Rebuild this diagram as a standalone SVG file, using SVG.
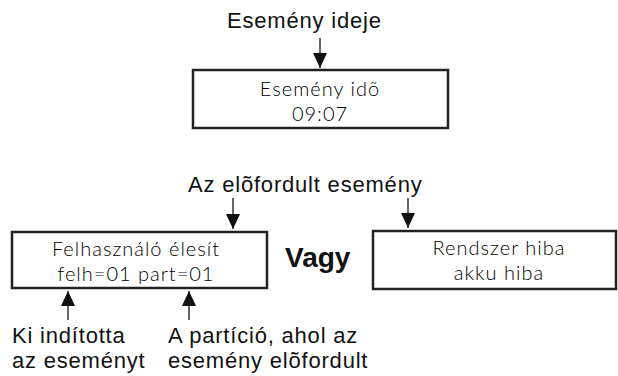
<svg xmlns="http://www.w3.org/2000/svg" width="618" height="376" viewBox="0 0 618 376">
<defs>
<marker id="ah" markerUnits="userSpaceOnUse" markerWidth="15" markerHeight="14" viewBox="0 0 15 14" refX="15" refY="7" orient="auto">
<path d="M0,0 L15,7 L0,14 Z" fill="#111"/>
</marker>
<style>
.lbl{font-family:"Liberation Sans",Arial,sans-serif;font-size:22px;letter-spacing:0.8px;fill:#111}
.box{fill:#fff;stroke:#222;stroke-width:2.5}
.bt{font-family:"Lato","Noto Sans",sans-serif;font-weight:300;font-size:20px;fill:#000;text-anchor:middle;letter-spacing:1px}
.conn line{stroke:#333;stroke-width:1.5}
</style>
</defs>
<rect width="618" height="376" fill="#fff"/>
<g id="label-ideje"><text class="lbl" x="227" y="28">Esemény ideje</text></g>
<g id="node-ido">
<rect class="box" x="193" y="70" width="255" height="58"/>
<text class="bt" x="320" y="96">Esemény idõ</text>
<text class="bt" x="320" y="121">09:07</text>
</g>
<g id="label-esemeny"><text class="lbl" x="188" y="192">Az elõfordult esemény</text></g>
<g id="node-felh">
<rect class="box" x="12" y="232" width="255" height="56"/>
<text class="bt" x="136" y="256">Felhasználó élesít</text>
<text class="bt" x="136" y="281">felh=01 part=01</text>
</g>
<g id="label-vagy"><text x="285" y="267" style="font-family:'Liberation Sans',Arial,sans-serif;font-weight:bold;font-size:28px;fill:#111">Vagy</text></g>
<g id="node-rendszer">
<rect class="box" x="373" y="231" width="243" height="58"/>
<text class="bt" x="499" y="255">Rendszer hiba</text>
<text class="bt" x="499" y="280">akku hiba</text>
</g>
<g id="label-ki"><text class="lbl" x="12" y="343">Ki indította</text><text class="lbl" x="12" y="368">az eseményt</text></g>
<g id="label-particio"><text class="lbl" x="168" y="343">A partíció, ahol az</text><text class="lbl" x="168" y="368">esemény elõfordult</text></g>
<g class="conn" id="connectors">
<line x1="320" y1="38" x2="320" y2="68" marker-end="url(#ah)"/>
<line x1="233" y1="198" x2="233" y2="229" marker-end="url(#ah)"/>
<line x1="408" y1="198" x2="408" y2="228" marker-end="url(#ah)"/>
<line x1="68" y1="320" x2="68" y2="291" marker-end="url(#ah)"/>
<line x1="189" y1="320" x2="189" y2="291" marker-end="url(#ah)"/>
</g>
</svg>
